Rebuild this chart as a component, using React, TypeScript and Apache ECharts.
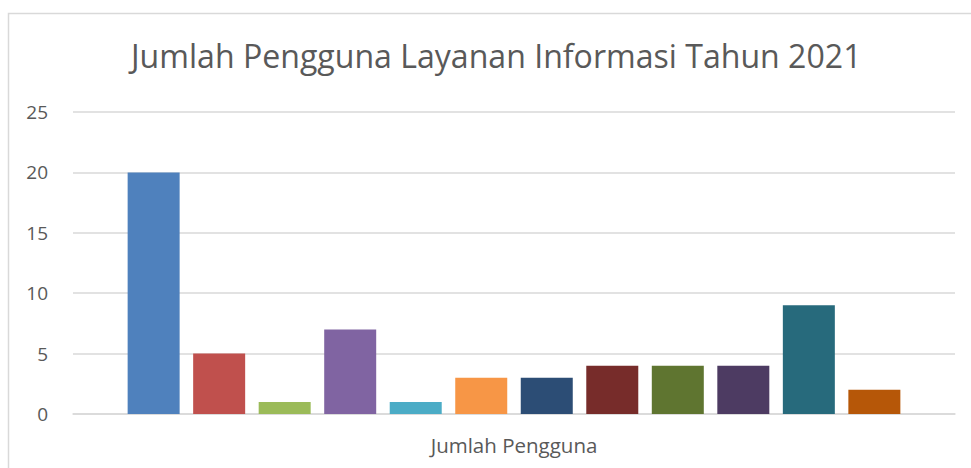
import React, { useEffect, useRef } from "react";
import * as echarts from "echarts";

const title = "Jumlah Pengguna Layanan Informasi Tahun 2021";
const categories = ["Jumlah Pengguna"];
const values = [20, 5, 1, 7, 1, 3, 3, 4, 4, 4, 9, 2];
const colors = [
  "#4F81BD", "#C0504D", "#9BBB59", "#8064A2", "#4BACC6", "#F79646",
  "#2C4D75", "#772C2A", "#5F7530", "#4D3B62", "#276A7C", "#B65708",
];
const yTicks = { min: 0, max: 25, interval: 5 };

export default function App() {
  const ref = useRef<HTMLDivElement>(null);
  useEffect(() => {
    if (!ref.current) return;
    const chart = echarts.init(ref.current, null, { renderer: "svg" });
    const font = "'Open Sans', 'Noto Sans', sans-serif";
    chart.setOption({
      animation: false,
      backgroundColor: "#ffffff",
      title: {
        text: title,
        left: 126,
        top: 34,
        textStyle: { fontFamily: font, fontSize: 32.1, fontWeight: "normal", color: "#595959" },
      },
      graphic: [
        {
          type: "rect",
          shape: { x: 8.5, y: 13.5, width: 1000, height: 500 },
          style: { fill: "none", stroke: "#d9d9d9", lineWidth: 1.5 },
          silent: true,
        },
      ],
      grid: { left: 73, right: 16, top: 112, bottom: 54 },
      xAxis: {
        type: "category",
        data: categories,
        axisLine: { show: true, lineStyle: { color: "#d9d9d9", width: 1.5 } },
        axisTick: { show: false },
        axisLabel: { fontFamily: font, fontSize: 20.5, color: "#595959", margin: 20 },
      },
      yAxis: {
        type: "value",
        min: yTicks.min,
        max: yTicks.max,
        interval: yTicks.interval,
        axisLine: { show: false },
        axisTick: { show: false },
        splitLine: { lineStyle: { color: "#d9d9d9", width: 1.5 } },
        axisLabel: { fontFamily: font, fontSize: 19, color: "#595959", margin: 25 },
      },
      series: values.map((v, i) => ({
        type: "bar",
        name: "S" + (i + 1),
        data: [v],
        barWidth: 52,
        barGap: "26%",
        itemStyle: { color: colors[i] },
      })),
    });
    return () => chart.dispose();
  }, []);
  return (
    <div
      ref={ref}
      style={{ position: "fixed", left: 0, top: 0, width: 971, height: 468 }}
    />
  );
}
